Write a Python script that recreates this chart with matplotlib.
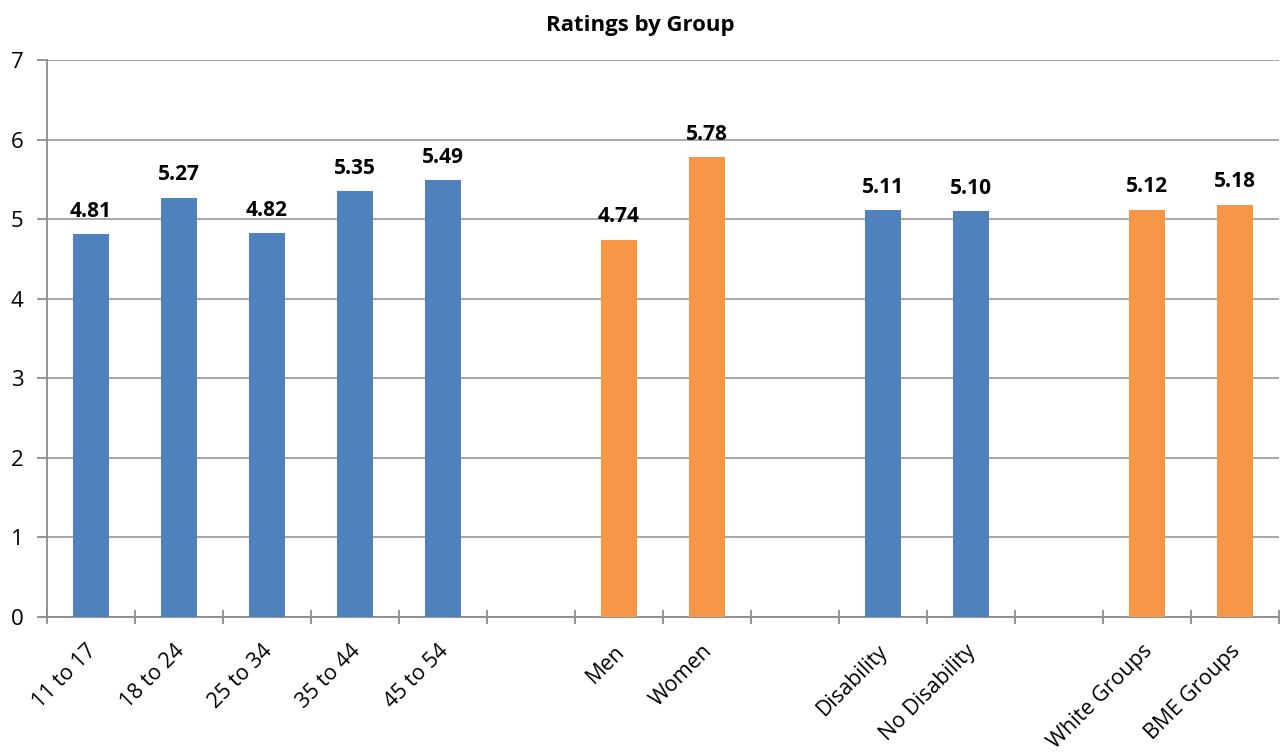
import numpy as np
import matplotlib
matplotlib.use("Agg")
from matplotlib import pyplot as plt

categories = ["11 to 17", "18 to 24", "25 to 34", "35 to 44", "45 to 54", "",
              "Men", "Women", "",
              "Disability", "No Disability", "",
              "White Groups", "BME Groups"]
ratings = [4.81, 5.27, 4.82, 5.35, 5.49, np.nan,
           4.74, 5.78, np.nan,
           5.11, 5.10, np.nan,
           5.12, 5.18]
bar_colors = ["#4F81BD"] * 6 + ["#F79646"] * 3 + ["#4F81BD"] * 3 + ["#F79646"] * 2

plt.rcParams['font.family'] = ['Open Sans', 'DejaVu Sans']

fig = plt.figure(figsize=(12.81, 7.53), dpi=100)
ax = fig.add_axes([47/1281, 1 - 617/753, (1279 - 47)/1281, (617 - 60)/753])

x = np.arange(len(categories))
ax.bar(x, ratings, width=0.4, color=bar_colors, zorder=3)

for xi, v in zip(x, ratings):
    if not np.isnan(v):
        ax.text(xi, v + 0.22, "%.2f" % v, ha='center', va='baseline',
                fontsize=15, fontweight='bold')

ax.set_xlim(-0.5, len(categories) - 0.5)
ax.set_ylim(0, 7)
ax.set_yticks(range(8))
ax.yaxis.grid(True, color='#A0A0A0', linewidth=1.3, zorder=0)
ax.tick_params(axis='y', length=7, width=1.3, color='#8C8C8C', labelsize=16, pad=10)

# category boundaries as ticks, labels at centres
ax.set_xticks(np.arange(len(categories) + 1) - 0.5)
ax.set_xticklabels([])
ax.set_xticks(x - 0.06, minor=True)
ax.set_xticklabels(categories, minor=True, rotation=45, ha='right',
                   rotation_mode='anchor', fontsize=15.5)
ax.tick_params(axis='x', which='major', length=10, width=1.3, color='#8C8C8C', direction='inout')
ax.tick_params(axis='x', which='minor', length=0, pad=17)

for s in ['top', 'right']:
    ax.spines[s].set_visible(False)
for s in ['left', 'bottom']:
    ax.spines[s].set_color('#8C8C8C')
    ax.spines[s].set_linewidth(1.3)

fig.text(0.5, 1 - 25/753, "Ratings by Group", ha='center', va='center',
         fontsize=16, fontweight='bold')

fig.savefig("out.png", dpi=100)
